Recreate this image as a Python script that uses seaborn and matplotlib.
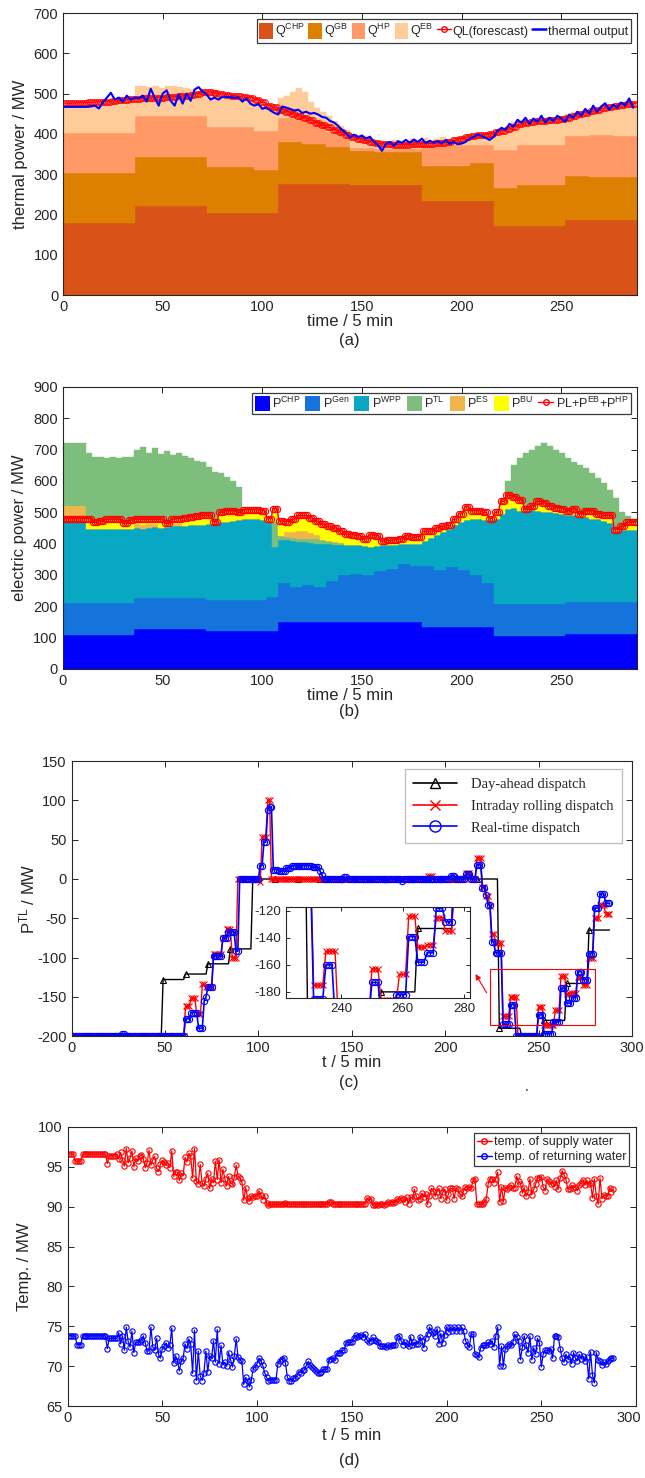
import numpy as np
import matplotlib
matplotlib.use("Agg")
import matplotlib.pyplot as plt
import matplotlib.transforms as mtransforms
import seaborn as sns
from matplotlib.patches import Rectangle, Patch
from matplotlib.lines import Line2D

# ---------------- data : panel (a) thermal ----------------
chp_a = [178,178,178,221,221,221,204,204,204,276,276,276,272,272,272,233,233,233,171,171,171,186,186,186]
gb_a = [125,125,125,122,122,122,114,113,106,104,100,92,85,83,83,87,87,95,94,101,102,110,108,106]
hp_a = [98,98,98,101,101,101,100,100,98,60,54,37,8,7,7,50,52,44,95,100,99,99,103,103]
eb_a = [64,67,69,65, 71,69,74,77, 79,81,77,84, 74,74,72,74, 71,74,74,73, 71,68,61,56,
        82,77,72,70, 71,68,65,63, 70,64,60,57, 50,55,65,75, 75,50,35,25, 40,27,15,5,
        33,27,30,20, 20,16,18,23, 16,18,26,18, 20,15,18,22, 16,20,18,23, 26,23,28,33,
        45,50,55,70, 53,63,58,68, 66,60,68,73, 55,60,53,65, 58,65,63,61, 70,75,73,70]
ql_a = [476,476,477,477, 478,479,480,480, 481,483,485,486, 487,488,489,490, 490,491,492,493,
        495,497,500,503, 504,502,499,497, 495,493,491,490, 485,478,470,466, 460,455,450,445,
        440,434,428,422, 416,410,404,398, 392,388,384,380, 377,375,374,373, 373,373,374,375,
        375,376,377,378, 380,384,388,392, 394,396,398,400, 404,408,412,418, 424,428,430,432,
        433,434,435,436, 440,445,450,452, 456,460,464,466, 470,472,474,475]
thermal_out = [467,467,467,467,467,467,467,468,470,463,478,490,502,485,490,
               480,495,485,490,488,495,480,512,490,470,500,508,482,470,498,
               475,500,482,510,516,505,498,485,490,485,492,492,491,490,490,
               480,488,475,470,474,462,466,458,452,448,468,465,462,458,460,
               452,455,450,452,448,442,440,432,428,420,410,402,390,398,392,
               396,388,393,380,372,358,375,380,370,382,378,385,378,386,380,
               388,377,383,378,382,376,385,375,380,374,376,380,388,392,398,
               395,390,385,392,408,415,410,425,418,435,428,440,425,438,430,
               445,428,440,432,445,438,430,448,440,455,445,462,450,470,455,
               468,476,460,472,465,478,470,488,465]
a_labels = [r"Q$^{\mathrm{CHP}}$", r"Q$^{\mathrm{GB}}$", r"Q$^{\mathrm{HP}}$", r"Q$^{\mathrm{EB}}$",
            "QL(forescast)", "thermal output"]

# ---------------- data : panel (b) electric ----------------
chp_b = [109,109,109,129,129,129,120,120,120,151,151,151,149,149,149,134,134,134,106,106,106,113,113,113]
gen_b = [101,101,101,101,101,101, 98,98,98,98,98,98, 101,101,101,101,101,110,
         124,111,117,109,129,149, 154,151,163,171,186,181, 196,181,191,181,166,141,
         101,101,101,101,101,101, 100,100,100,100,100,100]
wpp_b = [262,262,262,262, 238,238,238,238,238,238,238,238,
         223,221,223,225,223,225,228,228,228,231,233,233,
         241,244,247,249,251,253, 257,257,257,255, 240,160,
         137,135,146,144,136,134,140,138,118,116,95,
         95,92,91,92,90,80,83,75,76,63,65,70,70,
         78,88,113,123,123,133,153,160,178,178,201,199,
         273,288,303,308,298,298,301,298,293,293,291,288,
         277,277,272,272,267,265,259,252,227,232,232,229]
tlin_b = [0]*35 + [80, 12,12,10,10,10,12,14,12,10,8,6] + [0]*49
es_b = [48,48,48,48] + [0]*8 + [12,12,12,12] + [0,0] + [8,8] + [0]*17 + [15,20,25,25,20,15] + [0]*53
bu_b = [0,0,0,0, 29,17,21,27,27,27,14,24,
        13,15,13,11,25,10,12,14,24,24,24,27,
        25,2,29,32,30,23, 27,27,27,26,7,39,
        45,30,37,46,48,45,40,49,44,43,36,
        32,30,28,20,35,30,10,12,13,14,22,17,19,
        29,19,19,14,7,17,24,40,24,24,21,3,
        17,37,42,32,32,2,9,27,27,17,14,14,
        12,17,7,17,22,14,15,22,2,7,20,25]
tl_b = [200,200,200,200, 213,213,207,197,201,199,216,203,
        225,233,215,231,210,233,207,211,201,190,181,173,
        158,163,128,110,98,83] + [0]*43 + \
       [8,48,103,135,183,183,180,193,195,186,181,
        170,155,158,138,123,118,108,83,103,48,23,13]
load_b = [480,480,480,480,480,468,472,478,478,478,465,475,478,478,478,478,478,465,478,480,
          482,485,487,490,490,470,500,505,505,500,508,508,508,505,480,512,472,470,478,490,
          490,482,472,462,455,450,440,430,428,425,415,428,425,408,410,412,415,425,420,422,
          440,440,450,455,458,478,495,518,505,505,500,480,500,535,555,550,540,510,520,535,
          530,520,515,512,505,510,495,505,505,495,490,490,445,455,468,470]
b_labels = [r"P$^{\mathrm{CHP}}$", r"P$^{\mathrm{Gen}}$", r"P$^{\mathrm{WPP}}$", r"P$^{\mathrm{TL}}$",
            r"P$^{\mathrm{ES}}$", r"P$^{\mathrm{BU}}$", r"PL+P$^{\mathrm{EB}}$+P$^{\mathrm{HP}}$"]

# ---------------- data : panel (c) tie-line ----------------
dayahead_h = [-200,-200,-200,-200,-128,-121,-108,-89,0,0,0,0,0,0,0,0,0,0,0,-190,-200,-180,-133,-65]
intraday_runs = [(-200,60),(-162,3),(-152,3),(-172,3),(-134,2),(-137,4),(-96,5),(-75,2),(-64,3),
                 (-100,3),(0,12),(-4,1),(53,3),(100,2),(0,84),(4,3),(0,17),(7,3),(0,3),(27,3),
                 (-10,2),(-22,2),(-35,1),(-70,2),(-82,4),(-175,4),(-150,4),(-200,11),(-163,3),
                 (-186,6),(-167,3),(-124,3),(-147,3),(-145,3),(-125,3),(-135,3),(-100,3),
                 (-50,3),(-33,3),(-45,3)]
realtime_runs = [(-200,26),(-197,2),(-200,32),(-178,3),(-170,4),(-190,3),(-155,1),(-150,1),
                 (-137,3),(-98,5),(-75,3),(-67,4),(-92,2),(0,11),(17,2),(47,2),(88,1),(92,2),
                 (12,3),(10,4),(14,3),(17,11),(15,4),(10,1),(5,1),(0,11),(2,2),(0,29),(-3,1),
                 (0,25),(4,3),(0,5),(6,3),(0,3),(18,3),(-11,2),(-21,1),(-33,2),(-80,2),(-94,4),
                 (-185,4),(-160,3),(-200,12),(-173,3),(-197,5),(-182,4),(-139,3),(-158,3),
                 (-151,3),(-118,3),(-128,3),(-95,3),(-37,3),(-19,3),(-31,3)]
c_labels = ["Day-ahead dispatch", "Intraday rolling dispatch", "Real-time dispatch"]

# ---------------- data : panel (d) temperatures ----------------
supply_t = ([96.6,96.6,96.6,95.7,95.7,95.7,95.7,96.6,96.6,96.6] + [96.6]*10 +
            [95.4,96.4,96.4,96.4,96.4,96.6,96.0,96.8,95.9,95.1,
             97.3,95.5,96.1,97.0,95.0,96.1,95.7,96.3,96.5,96.0,
             94.9,95.5,97.1,95.2,95.9,96.3,94.8,94.4,95.3,95.8,
             95.6,95.2,95.5,94.9,97.0,93.8,94.4,94.3,93.3,94.2,
             93.9,96.2,95.6,96.7,96.3,93.6,97.3,93.2,92.9,95.3,
             93.0,92.6,93.5,94.2,92.3,93.5,93.0,95.7,93.4,95.9,
             93.0,94.7,93.5,92.6,93.8,93.0,92.8,93.7,95.2,93.8,
             93.6,93.1,90.8,92.4,91.1,90.7,91.3,91.2,91.4,91.3,
             92.0,91.5,90.9,91.4,90.5,90.2,90.3,90.3,90.3,90.3,
             90.3,90.3,90.3,90.3,90.5,90.3,90.3,90.3,90.3,90.3] + [90.3]*10 +
            [90.3,90.3,90.3,90.3,90.3,90.3,90.3,90.6,90.6,90.3] + [90.3]*10 +
            [90.3,90.3,90.3,90.3,90.3,90.3,90.4,91.1,90.8,91.0,
             90.2,90.2,90.3,90.2,90.4,90.3,90.2,90.3,90.6,90.5,
             90.6,90.5,90.6,91.0,90.8,91.1,91.0,90.6,91.2,90.4,
             91.2,91.0,92.2,91.3,90.9,91.0,91.7,91.2,91.6,90.3,
             91.4,92.3,92.0,91.3,91.9,92.3,91.0,91.8,92.2,90.8,
             91.6,92.3,92.3,91.0,92.3,92.2,91.6,91.3,92.0,92.5,
             92.4,92.5,92.3,93.3,93.5,90.3,90.3,90.3,90.3,90.6,
             91.0,92.9,93.5,93.5,93.0,93.5,94.3,90.6,92.5,90.7,
             92.4,92.2,92.5,92.7,92.3,92.4,93.8,93.2,92.9,91.7,
             92.4,91.3,91.8,93.5,91.5,92.2,92.8,93.6,93.6,93.7,
             92.5,92.0,93.5,93.2,92.8,93.0,92.5,93.3,92.2,93.6,
             94.5,94.0,93.4,92.2,92.2,92.7,92.4,92.5,92.0,92.7,
             93.0,93.4,92.7,93.3,92.8,93.0,91.1,93.5,91.4,90.3,
             93.6,91.0,91.5,91.4,91.3,92.4,91.9,92.2])
return_t = ([73.8,73.8,73.8,73.8,72.7,72.7,72.7,73.8,73.8,73.8] + [73.8]*10 +
            [72.2,73.5,73.5,73.5,73.5,73.5,74.2,72.8,73.8,72.0,
             74.9,73.1,72.4,74.4,71.7,73.0,73.0,73.0,73.3,73.8,
             72.9,71.9,71.9,74.9,72.4,72.0,73.5,71.5,71.0,72.2,
             72.5,72.9,72.3,72.6,74.8,70.4,71.3,70.7,69.4,70.6,
             71.0,72.8,72.2,73.4,72.8,69.1,74.5,68.2,71.9,68.8,
             68.2,69.2,71.9,69.3,71.3,71.0,73.2,70.5,74.6,70.3,
             72.6,70.2,70.5,70.0,71.7,70.8,69.9,71.3,73.4,71.1,
             70.8,70.6,67.7,68.6,68.1,67.4,68.3,69.7,69.9,70.3,
             71.0,70.7,70.1,69.2,68.6,68.2,68.3,68.3,68.3,68.3,
             70.3,70.7,70.9,71.0,70.4,68.6,68.2,68.1,68.5,68.5,
             68.8,69.3,69.2,69.5,69.5,70.1,70.6,70.2,69.9,69.7,
             69.4,69.2,69.2,69.3,69.6,69.6,69.6,70.8,70.9,71.0,
             70.8,71.6,71.6,71.7,72.0,72.0,72.9,73.0,73.0,73.0,
             73.5,73.9,73.6,73.8,73.9,73.7,74.0,73.3,73.0,73.2,
             73.6,73.3,73.1,73.0,72.5,72.5,72.5,72.4,72.6,72.5,
             72.6,72.6,72.7,73.6,73.8,73.2,72.7,73.0,72.8,72.5,
             73.7,72.6,73.0,72.8,72.8,73.7,73.2,72.3,73.5,74.0,
             74.9,74.4,74.1,73.8,74.7,72.8,74.1,72.9,73.9,74.9,
             74.3,74.9,74.4,74.9,74.4,74.9,74.4,74.9,74.4,73.2,
             72.7,72.4,74.0,74.0,71.5,71.4,71.2,72.3,72.6,72.6,
             72.6,73.0,72.8,73.2,72.4,73.8,74.9,70.0,72.5,70.0,
             72.2,72.5,72.8,72.6,73.0,74.0,73.6,73.2,70.8,72.4,
             73.8,72.6,71.7,73.8,70.8,72.3,71.5,73.5,72.9,69.9,
             71.5,72.0,72.0,71.9,72.2,71.0,73.8,73.8,73.6,72.2,
             71.0,70.5,71.5,70.9,71.2,70.3,71.7,71.0,70.7,71.5,
             70.9,71.3,70.6,71.2,68.4,71.8,68.9,67.9,71.7,70.8,
             70.6,70.1,70.5,70.3,70.6,70.9,71.0,71.0])
d_labels = ["temp. of supply water", "temp. of returning water"]

# ---------------- style ----------------
sns.set_style("ticks")
plt.rcParams.update({
    "font.family": ["Liberation Sans", "DejaVu Sans"],
    "mathtext.fontset": "custom",
    "mathtext.rm": "Liberation Sans",
    "mathtext.it": "Liberation Sans:italic",
    "mathtext.bf": "Liberation Sans:bold",
    "axes.edgecolor": "#262626",
    "axes.linewidth": 0.8,
    "axes.unicode_minus": False,
    "xtick.direction": "in", "ytick.direction": "in",
    "xtick.top": True, "ytick.right": True,
    "xtick.major.size": 4, "ytick.major.size": 4,
    "xtick.major.width": 0.7, "ytick.major.width": 0.7,
    "xtick.color": "#262626", "ytick.color": "#262626",
    "xtick.labelsize": 10.5, "ytick.labelsize": 10.5,
    "axes.labelsize": 12, "axes.labelcolor": "#262626",
})

fig = plt.figure(figsize=(6.45, 14.78), dpi=100)
axa = fig.add_axes([0.0977, 0.8004, 0.890, 0.1908])
axb = fig.add_axes([0.0969, 0.5474, 0.891, 0.1908])
axc = fig.add_axes([0.111, 0.299, 0.8687, 0.186])
axd = fig.add_axes([0.1047, 0.0487, 0.8814, 0.1888])


def stack(ax, layers, colors):
    x = np.arange(96) * 3
    bottom = np.zeros(96)
    for vals, c in zip(layers, colors):
        vals = np.asarray(vals, dtype=float)
        ax.bar(x, vals, 3, bottom=bottom, color=c, align="edge",
               edgecolor=c, linewidth=0.3)
        bottom = bottom + vals


def legend_box(leg):
    fr = leg.get_frame()
    fr.set_edgecolor("#3a3a3a")
    fr.set_linewidth(0.9)
    fr.set_boxstyle("square", pad=0)


# ---------------- panel (a) ----------------
a_colors = ["#D95319", "#DD7F00", "#FF9966", "#FFCC99"]
stack(axa, [np.repeat(chp_a, 4), np.repeat(gb_a, 4), np.repeat(hp_a, 4), eb_a], a_colors)
x288 = np.arange(288) + 0.5
sns.lineplot(x=x288, y=np.repeat(ql_a, 3), ax=axa, color="red", lw=0.8, marker="o",
             markersize=4, markerfacecolor="none", markeredgecolor="red",
             markeredgewidth=0.7, legend=False)
sns.lineplot(x=np.arange(len(thermal_out)) * 2, y=thermal_out, ax=axa, color="#0000FF",
             lw=1.5, legend=False)
axa.set_xlim(0, 288)
axa.set_ylim(0, 700)
axa.set_xticks(range(0, 251, 50))
axa.set_yticks(range(0, 701, 100))
axa.set_xlabel("time / 5 min", labelpad=0)
axa.set_ylabel("thermal power / MW", labelpad=4)
ha = [Patch(facecolor=c, edgecolor="none") for c in a_colors] + [
    Line2D([], [], color="red", marker="o", mfc="none", ms=4, lw=1),
    Line2D([], [], color="#0000FF", lw=1.8)]
leg = axa.legend(ha, a_labels, loc="upper right", bbox_to_anchor=(0.989, 0.977), ncol=6,
                 fontsize=9, handlelength=1.1, handleheight=1.5, handletextpad=0.15,
                 columnspacing=0.3, borderpad=0.2, borderaxespad=0, frameon=True,
                 fancybox=False, framealpha=1)
legend_box(leg)

# ---------------- panel (b) ----------------
b_colors = ["#0000FF", "#1573DC", "#08A8C4", "#7DBE7D", "#F0B44C", "#FFFF00"]
stack(axb, [np.repeat(chp_b, 4), np.repeat(gen_b, 2), wpp_b, tlin_b, es_b, bu_b, tl_b],
      [b_colors[0], b_colors[1], b_colors[2], b_colors[3], b_colors[4], b_colors[5], b_colors[3]])
sns.lineplot(x=x288, y=np.repeat(load_b, 3), ax=axb, color="red", lw=1.0, marker="o",
             markersize=4.5, markerfacecolor="none", markeredgecolor="red",
             markeredgewidth=0.8, legend=False)
axb.set_xlim(0, 288)
axb.set_ylim(0, 900)
axb.set_xticks(range(0, 251, 50))
axb.set_yticks(range(0, 901, 100))
axb.set_xlabel("time / 5 min", labelpad=0)
axb.set_ylabel("electric power / MW", labelpad=4)
hb = [Patch(facecolor=c, edgecolor="none") for c in b_colors] + [
    Line2D([], [], color="red", marker="o", mfc="none", ms=4, lw=1)]
leg = axb.legend(hb, b_labels, loc="upper right", bbox_to_anchor=(0.989, 0.979), ncol=7,
                 fontsize=9, handlelength=1.2, handleheight=1.5, handletextpad=0.2,
                 columnspacing=0.4, borderpad=0.2, borderaxespad=0, frameon=True,
                 fancybox=False, framealpha=1)
legend_box(leg)

# ---------------- panel (c) ----------------
xt = np.arange(1, 289)
dayahead = np.repeat(dayahead_h, 12)
intraday = np.repeat([v for v, n in intraday_runs], [n for v, n in intraday_runs])
realtime = np.repeat([v for v, n in realtime_runs], [n for v, n in realtime_runs])


def draw_tl(ax, ms_scale=1.0):
    sns.lineplot(x=xt, y=dayahead, ax=ax, color="black", lw=1.0, marker="^",
                 markersize=5 * ms_scale, markerfacecolor="none", markeredgecolor="black",
                 markeredgewidth=0.8, markevery=12, legend=False)
    sns.lineplot(x=xt, y=intraday, ax=ax, color="red", lw=1.0, marker="x",
                 markersize=5 * ms_scale, markeredgecolor="red", markeredgewidth=0.8,
                 legend=False)
    sns.lineplot(x=xt, y=realtime, ax=ax, color="#0000FF", lw=1.2, marker="o",
                 markersize=4.5 * ms_scale, markerfacecolor="none", markeredgecolor="#0000FF",
                 markeredgewidth=0.8, legend=False)


draw_tl(axc)
axc.set_xlim(0, 300)
axc.set_ylim(-200, 150)
axc.set_xticks(range(0, 301, 50))
axc.set_yticks(range(-200, 151, 50))
axc.set_xlabel("t / 5 min", labelpad=0)
axc.set_ylabel(r"P$^{\mathrm{TL}}$ / MW", labelpad=0)
axc.add_patch(Rectangle((224, -186), 56, 72, fill=False, edgecolor="red", lw=0.8, zorder=5))
axc.annotate("", xy=(215.5, -118), xytext=(223, -148),
             arrowprops=dict(arrowstyle="-|>", color="red", lw=0.8, mutation_scale=8))
hc = [Line2D([], [], color="black", marker="^", mfc="none", ms=7, lw=1.2),
      Line2D([], [], color="red", marker="x", ms=7, lw=1.2),
      Line2D([], [], color="#0000FF", marker="o", mfc="none", ms=8, lw=1.2)]
leg = axc.legend(hc, c_labels, loc="upper right", bbox_to_anchor=(0.982, 0.97),
                 prop={"family": "Liberation Serif", "size": 10.5}, handlelength=3.0,
                 handletextpad=1.0, labelspacing=0.6, borderpad=0.55, borderaxespad=0,
                 frameon=True, fancybox=False, framealpha=1)
leg.get_frame().set_edgecolor("#bdbdbd")
leg.get_frame().set_linewidth(0.9)

ins = fig.add_axes([0.4434, 0.3248, 0.2853, 0.0616])
ins.set_facecolor("white")
draw_tl(ins)
ins.set_xlim(222, 282)
ins.set_ylim(-184.5, -117)
ins.set_xticks([240, 260, 280])
ins.set_yticks([-180, -160, -140, -120])
ins.tick_params(labelsize=9.5, length=3)
ins.set_xlabel("")
ins.set_ylabel("")

# ---------------- panel (d) ----------------
sns.lineplot(x=xt, y=supply_t, ax=axd, color="red", lw=0.9, marker="o", markersize=3.8,
             markerfacecolor="none", markeredgecolor="red", markeredgewidth=0.8, legend=False)
sns.lineplot(x=xt, y=return_t, ax=axd, color="#0000FF", lw=0.9, marker="o", markersize=3.8,
             markerfacecolor="none", markeredgecolor="#0000FF", markeredgewidth=0.8,
             legend=False)
axd.set_xlim(0, 300)
axd.set_ylim(65, 100)
axd.set_xticks(range(0, 301, 50))
axd.set_yticks(range(65, 101, 5))
axd.set_xlabel("t / 5 min", labelpad=2)
axd.set_ylabel("Temp. / MW", labelpad=4)
hd = [Line2D([], [], color="red", marker="o", mfc="none", ms=4, lw=1),
      Line2D([], [], color="#0000FF", marker="o", mfc="none", ms=4, lw=1)]
leg = axd.legend(hd, d_labels, loc="upper right", bbox_to_anchor=(0.988, 0.978), fontsize=9,
                 handlelength=1.2, handletextpad=0.15, labelspacing=0.25, borderpad=0.25,
                 borderaxespad=0, frameon=True, fancybox=False, framealpha=1)
legend_box(leg)

for ax in (axa, axb, axc, axd, ins):
    for s in ax.spines.values():
        s.set_visible(True)
        s.set_color("#262626")
        s.set_linewidth(0.8)

# keep the last tick label of (d) inside the picture
fig.canvas.draw()
shift = mtransforms.ScaledTranslation(-7 / 100, 0, fig.dpi_scale_trans)
last = axd.xaxis.get_major_ticks()[-1]
last.label1.set_transform(last.label1.get_transform() + shift)

# panel captions
for y_px, txt in [(341, "(a)"), (711, "(b)"), (1083, "(c)"), (1460, "(d)")]:
    fig.text(349 / 645, 1 - y_px / 1478, txt, ha="center", va="center", fontsize=12,
             color="#262626")
fig.text(527 / 645, 1 - 1087 / 1478, ".", ha="center", va="center", fontsize=10)

fig.savefig("out.png", dpi=100)
